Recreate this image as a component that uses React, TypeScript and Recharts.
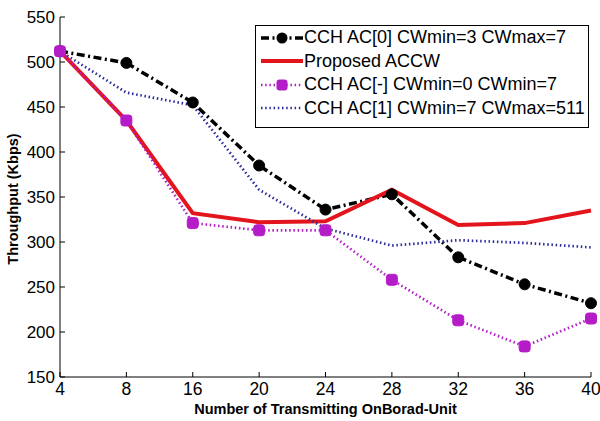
import React from 'react';
import { LineChart, Line, XAxis, YAxis, Legend } from 'recharts';

const categories = ['4', '8', '16', '20', '24', '28', '32', '36', '40'];
const ac0Values = [512, 499, 455, 385, 336, 353, 283, 253, 232];
const proposedValues = [512, 435, 332, 322, 323, 358, 319, 321, 335];
const acMinusValues = [512, 435, 321, 313, 313, 258, 213, 184, 215];
const ac1Values = [512, 466, 452, 358, 315, 296, 302, 299, 294];
const yTicks = [150, 200, 250, 300, 350, 400, 450, 500, 550];

const seriesNames = [
  'CCH AC[0] CWmin=3 CWmax=7',
  'Proposed ACCW',
  'CCH AC[-] CWmin=0 CWmin=7',
  'CCH AC[1] CWmin=7 CWmax=511',
];

const data = categories.map((n, i) => ({
  n,
  ac0: ac0Values[i],
  proposed: proposedValues[i],
  acMinus: acMinusValues[i],
  ac1: ac1Values[i],
}));

const FONT = '"Liberation Sans", Arial, sans-serif';
const BLACK = '#000000';
const RED = '#e3141b';
const MAGENTA = '#b41cc8';
const BLUE = '#2b2b9e';

const CircleDot = (props: any) => {
  const { cx, cy } = props;
  if (cx == null || cy == null) return <g />;
  return <circle cx={cx} cy={cy} r={5.5} fill={BLACK} stroke={BLACK} />;
};

const SquareDot = (props: any) => {
  const { cx, cy } = props;
  if (cx == null || cy == null) return <g />;
  return <rect x={cx - 5.5} y={cy - 5.5} width={11} height={11} rx={3} fill={MAGENTA} stroke={MAGENTA} />;
};

const LegendBox = () => {
  const rowStyle: React.CSSProperties = {
    display: 'flex',
    alignItems: 'center',
    height: 23.5,
    whiteSpace: 'nowrap',
  };
  const sample = (i: number) => {
    if (i === 0)
      return (
        <svg width={42} height={20}>
          <line x1={0} y1={10} x2={42} y2={10} stroke={BLACK} strokeWidth={3.5} strokeDasharray="8 3.5 2 3.5" />
          <circle cx={21} cy={10} r={5.5} fill={BLACK} />
        </svg>
      );
    if (i === 1)
      return (
        <svg width={42} height={20}>
          <line x1={0} y1={10} x2={42} y2={10} stroke={RED} strokeWidth={4} />
        </svg>
      );
    if (i === 2)
      return (
        <svg width={42} height={20}>
          <line x1={0} y1={10} x2={42} y2={10} stroke={MAGENTA} strokeWidth={2.7} strokeDasharray="1.5 2.7" />
          <rect x={15.5} y={4.5} width={11} height={11} rx={3} fill={MAGENTA} />
        </svg>
      );
    return (
      <svg width={42} height={20}>
        <line x1={0} y1={10} x2={42} y2={10} stroke={BLUE} strokeWidth={2.7} strokeDasharray="1.5 2.7" />
      </svg>
    );
  };
  return (
    <div
      style={{
        width: 332,
        height: 101,
        border: '1px solid #000',
        background: '#fff',
        fontFamily: FONT,
        fontSize: 18,
        color: '#000',
        paddingTop: 0,
        boxSizing: 'content-box',
      }}
    >
      {seriesNames.map((name, i) => (
        <div key={name} style={rowStyle}>
          <div style={{ marginLeft: 5, width: 42, height: 20 }}>{sample(i)}</div>
          <span style={{ marginLeft: 1 }}>{name}</span>
        </div>
      ))}
    </div>
  );
};

const YLabel = (props: any) => {
  const vb = props.viewBox || { x: 0, y: 17, width: 60, height: 360 };
  const cx = 13;
  const cy = vb.y + vb.height / 2 + 2;
  return (
    <text
      x={cx}
      y={cy}
      transform={`rotate(-90 ${cx} ${cy})`}
      textAnchor="middle"
      dominantBaseline="central"
      fontFamily={FONT}
      fontSize={14.5}
      fontWeight="bold"
      fill="#000"
    >
      Throughput (Kbps)
    </text>
  );
};

const XLabel = (props: any) => {
  const vb = props.viewBox || { x: 60, y: 377, width: 531, height: 44 };
  return (
    <text
      x={vb.x + vb.width / 2}
      y={414}
      textAnchor="middle"
      fontFamily={FONT}
      fontSize={14.5}
      fontWeight="bold"
      fill="#000"
    >
      Number of Transmitting OnBorad-Unit
    </text>
  );
};

const emptyTick = () => <g />;

export default function App() {
  return (
    <div style={{ position: 'absolute', left: 0, top: 0, background: '#fff' }}>
      <LineChart
        width={600}
        height={421}
        data={data}
        margin={{ top: 17, right: 9, left: 0, bottom: 0 }}
        style={{ fontFamily: FONT }}
      >
        <XAxis
          dataKey="n"
          type="category"
          padding={{ left: 0, right: 0 }}
          height={44}
          tickSize={-5}
          tickMargin={11}
          axisLine={{ stroke: '#000' }}
          tickLine={{ stroke: '#000' }}
          tick={{ fill: '#000', fontSize: 17.5, fontFamily: FONT }}
          interval={0}
          label={<XLabel />}
        />
        <XAxis
          xAxisId="top"
          dataKey="n"
          orientation="top"
          type="category"
          padding={{ left: 0, right: 0 }}
          height={0}
          tickSize={-5}
          axisLine={{ stroke: '#000' }}
          tickLine={{ stroke: '#000' }}
          tick={emptyTick}
          interval={0}
        />
        <YAxis
          domain={[150, 550]}
          ticks={yTicks}
          width={60}
          tickSize={-5}
          tickMargin={10}
          axisLine={{ stroke: '#000' }}
          tickLine={{ stroke: '#000' }}
          tick={{ fill: '#000', fontSize: 17, fontFamily: FONT }}
          interval={0}
          label={<YLabel />}
        />
        <YAxis
          yAxisId="right"
          orientation="right"
          domain={[150, 550]}
          ticks={yTicks}
          width={0}
          tickSize={-5}
          axisLine={{ stroke: '#000' }}
          tickLine={{ stroke: '#000' }}
          tick={emptyTick}
          interval={0}
        />
        <Legend
          layout="vertical"
          align="center"
          verticalAlign="middle"
          content={<LegendBox />}
          wrapperStyle={{ position: 'absolute', left: 255, top: 25, width: 334, height: 103 }}
        />
        <Line
          dataKey="ac0"
          name={seriesNames[0]}
          stroke={BLACK}
          strokeWidth={3.5}
          strokeDasharray="8 3.5 2 3.5"
          dot={<CircleDot />}
          isAnimationActive={false}
        />
        <Line
          dataKey="proposed"
          name={seriesNames[1]}
          stroke={RED}
          strokeWidth={4}
          dot={false}
          isAnimationActive={false}
        />
        <Line
          dataKey="acMinus"
          name={seriesNames[2]}
          stroke={MAGENTA}
          strokeWidth={2.7}
          strokeDasharray="1.5 2.7"
          dot={<SquareDot />}
          isAnimationActive={false}
        />
        <Line
          dataKey="ac1"
          name={seriesNames[3]}
          stroke={BLUE}
          strokeWidth={2.7}
          strokeDasharray="1.5 2.7"
          dot={false}
          isAnimationActive={false}
        />
      </LineChart>
    </div>
  );
}
